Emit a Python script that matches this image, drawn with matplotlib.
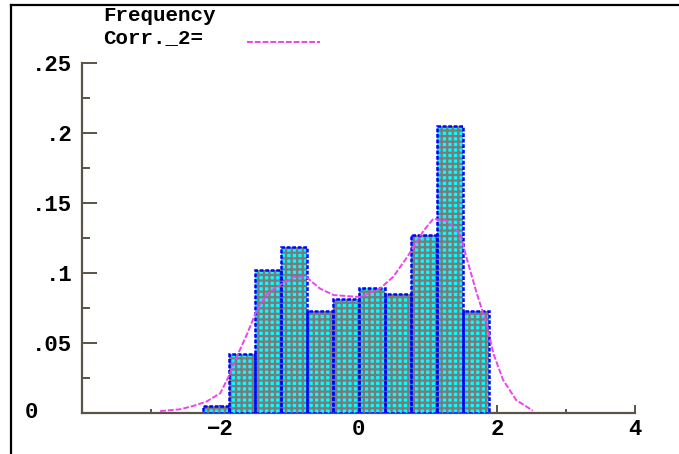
import numpy as np
import matplotlib
matplotlib.use('Agg')
import matplotlib.pyplot as plt
from matplotlib.lines import Line2D

# histogram bins (fraction per bin)
bin_start = -2.255
bin_width = 0.377
freq = [0.0046, 0.0418, 0.1019, 0.1186, 0.0726, 0.081, 0.0888, 0.0848, 0.127, 0.2052, 0.0726]

# smoothed curve Corr._2
curve_x = [-2.87, -2.58, -2.39, -2.20, -2.00, -1.88, -1.76, -1.61, -1.47, -1.32, -1.18,
           -0.94, -0.75, -0.56, -0.36, 0.02, 0.31, 0.50, 0.70, 0.79, 0.94, 1.08,
           1.27, 1.47, 1.56, 1.71, 1.85, 1.95, 2.09, 2.28, 2.52]
curve_y = [0.001, 0.0023, 0.0047, 0.0078, 0.0138, 0.0257, 0.040, 0.0565, 0.0733, 0.0851, 0.0899,
           0.097, 0.0966, 0.0887, 0.0840, 0.0826, 0.0887, 0.097, 0.111, 0.118, 0.130, 0.1385,
           0.1373, 0.1278, 0.111, 0.0851, 0.0637, 0.0422, 0.0233, 0.0089, 0.0013]

xticks = [-2, 0, 2, 4]
yticks = [0.05, 0.1, 0.15, 0.2, 0.25]
ytick_labels = ['.05', '.1', '.15', '.2', '.25']

font = 'Liberation Mono'
fsize = 16
axis_col = '#5a5346'
plt.rcParams['hatch.linewidth'] = 1.6

fig = plt.figure(figsize=(6.79, 4.54), dpi=100)
ax = fig.add_axes([0.1208, 0.0914, 0.8146, 0.7698])

lefts = bin_start + bin_width * np.arange(len(freq))
ax.bar(lefts, freq, width=bin_width, align='edge', facecolor='#00ffff',
       edgecolor='#7a7a7a', hatch='+++', linewidth=0, zorder=3)
ax.bar(lefts, freq, width=bin_width, align='edge', fill=False,
       edgecolor='#0000ff', linestyle=(0, (1.5, 0.7)), linewidth=1.8, zorder=4)
ax.plot(curve_x, curve_y, color='#ee44ee', linewidth=1.4, dashes=(3, 1), zorder=5)

ax.set_xlim(-4, 4)
ax.set_ylim(0, 0.25)
for s in ['top', 'right']:
    ax.spines[s].set_visible(False)
for s in ['left', 'bottom']:
    ax.spines[s].set_color(axis_col)
    ax.spines[s].set_linewidth(1.6)

ax.set_xticks(xticks)
ax.set_xticks([-3, -1, 1, 3], minor=True)
ax.set_xticklabels([str(t).replace('-', '\u2212') for t in xticks],
                   fontfamily=font, fontweight='bold', fontsize=fsize)
ax.set_yticks(yticks)
ax.set_yticks(np.arange(0.025, 0.25, 0.05), minor=True)
ax.set_yticklabels(ytick_labels, fontfamily=font, fontweight='bold', fontsize=fsize)
ax.tick_params(axis='x', which='major', direction='in', length=6, width=1.4,
               color=axis_col, pad=5)
ax.tick_params(axis='x', which='minor', direction='in', length=3, width=1.4,
               color=axis_col)
ax.tick_params(axis='y', which='major', direction='in', length=11, width=1.4,
               color=axis_col, pad=7)
ax.tick_params(axis='y', which='minor', direction='in', length=6, width=1.4,
               color=axis_col)
ax.text(-0.092, 0, '0', transform=ax.get_yaxis_transform(), ha='center', va='center',
        fontfamily=font, fontweight='bold', fontsize=fsize)

# legend block at the top
fig.text(0.152, 0.966, 'Frequency', fontfamily=font, fontweight='bold', fontsize=15,
         va='center', ha='left')
fig.text(0.152, 0.918, 'Corr._2=', fontfamily=font, fontweight='bold', fontsize=15,
         va='center', ha='left')
fig.add_artist(Line2D([0.364, 0.471], [0.908, 0.908], color='#ee44ee',
                      linewidth=1.4, dashes=(3, 1)))

# outer frame (top and left only)
fig.add_artist(Line2D([0.016, 1.0], [0.989, 0.989], color='black', linewidth=1.6))
fig.add_artist(Line2D([0.016, 0.016], [0.0, 0.989], color='black', linewidth=1.6))

fig.savefig('out.png', dpi=100)
